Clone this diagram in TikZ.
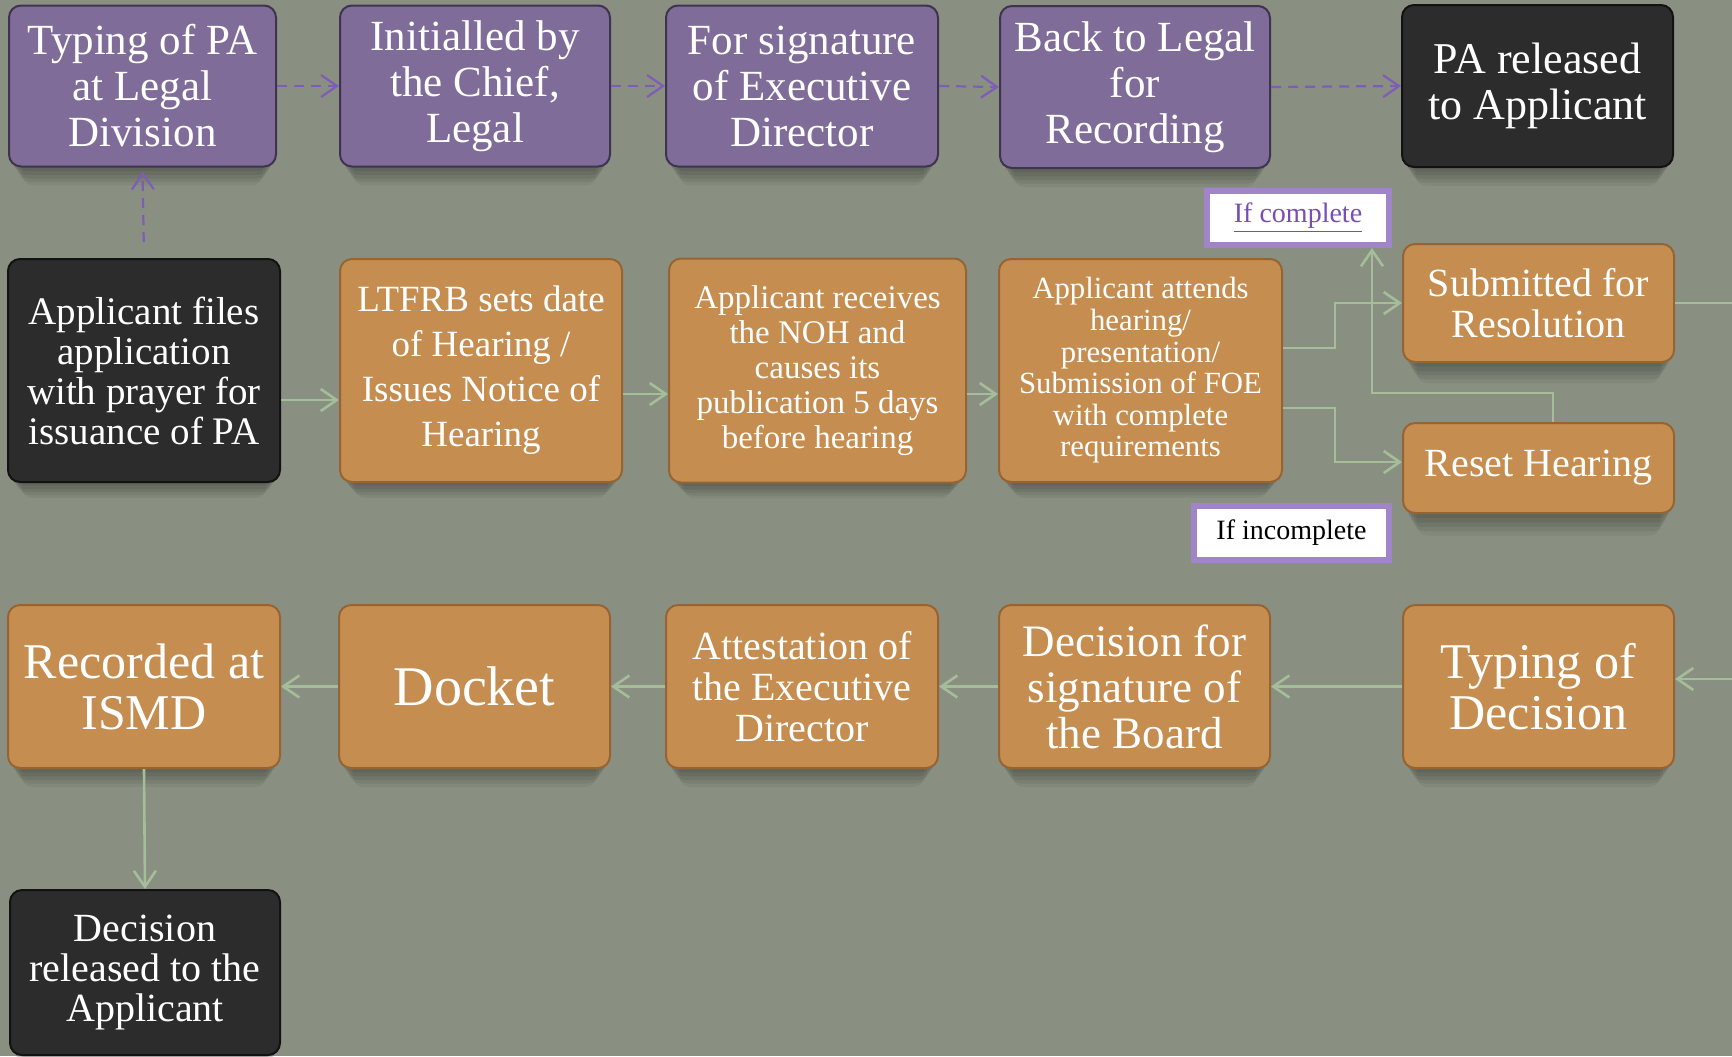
\documentclass[tikz,border=0pt]{standalone}
\usepackage{fontspec}
\setmainfont{Liberation Serif}
\usetikzlibrary{arrows.meta,shadows,calc}
\definecolor{bgc}{RGB}{137,144,129}
\definecolor{orangec}{RGB}{198,141,80}
\definecolor{orangeb}{RGB}{150,100,50}
\definecolor{purplec}{RGB}{127,108,153}
\definecolor{purpleb}{RGB}{62,52,80}
\definecolor{darkc}{RGB}{44,44,44}
\definecolor{darkb}{RGB}{18,18,18}
\definecolor{connc}{RGB}{165,189,153}
\definecolor{dashc}{RGB}{126,92,184}
\definecolor{ifb}{RGB}{160,134,200}
\definecolor{linkc}{RGB}{118,78,180}
\newcommand\myfs[2]{\fontsize{#1}{#2}\selectfont}
\tikzset{
  boxbase/.style={rectangle, rounded corners=6pt, align=center, text=white, inner sep=2pt,
    line width=1pt,
    drop shadow={shadow xshift=0pt, shadow yshift=-3pt, shadow scale=0.98, opacity=.07, fill=black},
    drop shadow={shadow xshift=0pt, shadow yshift=-6pt, shadow scale=0.96, opacity=.07, fill=black},
    drop shadow={shadow xshift=0pt, shadow yshift=-9pt, shadow scale=0.94, opacity=.07, fill=black},
    drop shadow={shadow xshift=0pt, shadow yshift=-12pt, shadow scale=0.92, opacity=.06, fill=black},
    drop shadow={shadow xshift=0pt, shadow yshift=-15pt, shadow scale=0.90, opacity=.05, fill=black}},
  obox/.style={boxbase, fill=orangec, draw=orangeb},
  pbox/.style={boxbase, fill=purplec, draw=purpleb},
  dbox/.style={boxbase, fill=darkc, draw=darkb},
  ifbox/.style={rectangle, fill=white, draw=ifb, line width=3pt, inner sep=1pt, align=center},
  conn/.style={draw=connc, line width=1.3pt, -{Straight Barb[length=8pt,width=11pt]}},
  plainconn/.style={draw=connc, line width=1.3pt},
  dconn/.style={draw=dashc, line width=1.1pt, dash pattern=on 5pt off 3.5pt,
    -{Straight Barb[length=8pt,width=11pt]}}
}
\begin{document}
\begin{tikzpicture}[x=0.5pt,y=-0.5pt]
\fill[bgc] (0,0) rectangle (1732,1056);
\useasboundingbox (0,0) rectangle (1732,1056);

% top row
\node[pbox, minimum width=133.5pt, minimum height=80.5pt, font=\myfs{21.5}{23}] (A) at (142.5,86) {Typing of PA\\at Legal\\Division};
\node[pbox, minimum width=135pt, minimum height=80.5pt, font=\myfs{21.5}{23}] (B) at (475,86) {Initialled by\\the Chief,\\Legal};
\node[pbox, minimum width=136pt, minimum height=80.5pt, font=\myfs{21.5}{23}] (C) at (802,86) {For signature\\of Executive\\Director};
\node[pbox, minimum width=135pt, minimum height=81pt, font=\myfs{21.5}{23}] (D) at (1135,87) {Back to Legal\\for\\Recording};
\node[dbox, minimum width=135.5pt, minimum height=81pt, font=\myfs{22}{23}] (E) at (1537.5,86) {PA released\\to Applicant};

% middle row
\node[dbox, minimum width=136pt, minimum height=111.5pt, font=\myfs{19.5}{20}] (F) at (144,370.5) {Applicant files\\application\\with prayer for\\issuance of PA};
\node[obox, minimum width=141pt, minimum height=111.5pt, font=\myfs{18.5}{22.5}] (G) at (481,370.5) {LTFRB sets date\\of Hearing /\\Issues Notice of\\Hearing};
\node[obox, minimum width=148.5pt, minimum height=112pt, font=\myfs{16.5}{17.5}] (H) at (817.5,370.5) {Applicant receives\\the NOH and\\causes its\\publication 5 days\\before hearing};
\node[obox, minimum width=141.5pt, minimum height=111.5pt, font=\myfs{15.4}{15.8}] (I) at (1140.5,370.5) {Applicant attends\\hearing/\\presentation/\\Submission of FOE\\with complete\\requirements};
\node[obox, minimum width=135.5pt, minimum height=59pt, font=\myfs{20}{20.5}] (J) at (1538.5,303) {Submitted for\\Resolution};
\node[obox, minimum width=135.5pt, minimum height=45pt, font=\myfs{20}{20.5}] (K) at (1538.5,468) {Reset Hearing};
\node[ifbox, minimum width=91pt, minimum height=27pt, font=\myfs{14}{16}, text=linkc] (IC) at (1298,218) {\underline{If complete}};
\node[ifbox, minimum width=97.5pt, minimum height=27pt, font=\myfs{14}{16}, text=black] (II) at (1291.5,533) {If incomplete};

% bottom row
\node[obox, minimum width=136pt, minimum height=81.5pt, font=\myfs{25}{25.5}] (L) at (144,686.5) {Recorded at\\ISMD};
\node[obox, minimum width=135.5pt, minimum height=81.5pt, font=\myfs{28}{30}] (M) at (474.5,686.5) {Docket};
\node[obox, minimum width=136pt, minimum height=81.5pt, font=\myfs{20}{20.5}] (N) at (802,686.5) {Attestation of\\the Executive\\Director};
\node[obox, minimum width=135.5pt, minimum height=81.5pt, font=\myfs{22.5}{23}] (O) at (1134.5,686.5) {Decision for\\signature of\\the Board};
\node[obox, minimum width=135.5pt, minimum height=81.5pt, font=\myfs{25}{25.5}] (P) at (1538.5,686.5) {Typing of\\Decision};
\node[dbox, minimum width=135pt, minimum height=82.5pt, font=\myfs{20}{20}] (Q) at (145,972.5) {Decision\\released to the\\Applicant};

% helper coordinates
\coordinate (r0) at (0,400);
\coordinate (r1) at (0,394);
\coordinate (ij) at (1335,348);
\coordinate (ik) at (1335,408);
\coordinate (kc1) at (1553,393);
\coordinate (kc2) at (1372,393);
\coordinate (edgeJ) at (1732,303);
\coordinate (edgeP) at (1732,679);

% dashed purple connectors
\draw[dconn, shorten <=8pt, shorten >=2pt] (F.north) -- (A.south);
\draw[dconn] (A.east) -- (B.west);
\draw[dconn] (B.east) -- (C.west);
\draw[dconn] (C.east) -- (D.west);
\draw[dconn] (D.east) -- (E.west);

% middle connectors
\draw[conn] (F.east |- r0) -- (G.west |- r0);
\draw[conn] (G.east |- r1) -- (H.west |- r1);
\draw[conn] (H.east |- r1) -- (I.west |- r1);
\draw[conn] (I.east |- ij) -- (ij) |- (J.west);
\draw[conn] (I.east |- ik) -- (ik) |- (K.west |- 0,462);
\draw[conn] (K.north -| kc1) -- (kc1) -- (kc2) -- (IC.south -| kc2);
\draw[plainconn] (J.east) -- (edgeJ);

% bottom connectors
\draw[conn] (edgeP) -- (P.east |- edgeP);
\draw[conn] (P.west) -- (O.east);
\draw[conn] (O.west) -- (N.east);
\draw[conn] (N.west) -- (M.east);
\draw[conn] (M.west) -- (L.east);
\draw[conn] (L.south) -- (Q.north);
\end{tikzpicture}
\end{document}
